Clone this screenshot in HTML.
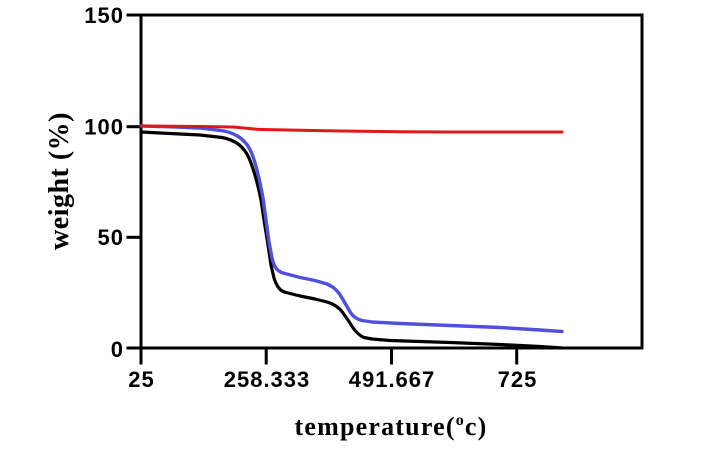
<!DOCTYPE html>
<html>
<head>
<meta charset="utf-8">
<style>
html,body{margin:0;padding:0;background:#fff;}
svg{display:block;}
.tk{font-family:"Liberation Sans",Arial,sans-serif;font-weight:bold;font-size:22px;letter-spacing:1px;fill:#000;}
.lb{font-family:"Liberation Serif","Times New Roman",serif;font-weight:bold;fill:#000;}
</style>
</head>
<body>
<svg width="701" height="450" viewBox="0 0 701 450" xmlns="http://www.w3.org/2000/svg">
  <rect width="701" height="450" fill="#fff"/>
  <g stroke="#000" stroke-width="3" fill="none" stroke-linecap="square">
    <line x1="141" y1="15" x2="141" y2="363"/>
    <line x1="128" y1="15" x2="642" y2="15"/>
    <line x1="642" y1="15" x2="642" y2="348"/>
    <line x1="128" y1="348" x2="642" y2="348"/>
    <line x1="128" y1="126.7" x2="141" y2="126.7"/>
    <line x1="128" y1="237.3" x2="141" y2="237.3"/>
    <line x1="266.2" y1="348" x2="266.2" y2="363"/>
    <line x1="391.5" y1="348" x2="391.5" y2="363"/>
    <line x1="516.7" y1="348" x2="516.7" y2="363"/>
  </g>
  <text class="tk" x="124" y="23" text-anchor="end">150</text>
  <text class="tk" x="124" y="134.5" text-anchor="end">100</text>
  <text class="tk" x="124" y="245" text-anchor="end">50</text>
  <text class="tk" x="124" y="357" text-anchor="end">0</text>
  <text class="tk" x="141.5" y="387" text-anchor="middle">25</text>
  <text class="tk" x="267" y="387" text-anchor="middle">258.333</text>
  <text class="tk" x="392" y="387" text-anchor="middle">491.667</text>
  <text class="tk" x="517.5" y="387" text-anchor="middle">725</text>
  <text class="lb" font-size="28" letter-spacing="0.5" transform="translate(68,181) rotate(-90)" text-anchor="middle">weight (%)</text>
  <text class="lb" font-size="26" letter-spacing="1.2" x="391" y="435" text-anchor="middle">temperature(<tspan font-size="16" dy="-10">o</tspan><tspan dy="10">c)</tspan></text>
  <g fill="none" stroke-linejoin="round" stroke-linecap="round">
    <path stroke="#000" stroke-width="3.2" d="M141,132 L170,133.5 L200,135 L222,137.5 C236,140 244,147 249,158 C254,170 258,185 261,200 L264,220 L268,245 L271,265 L274,278 C277,287 280,291 286,292.5 L300,296 L315,299 L327,302 C334,304 339,307 343,313 L350,323 C354,330 358,335 364,337.5 L372,339 L390,340.5 L420,341.5 L450,342.5 L500,344.5 L540,346.5 L562,348"/>
    <path stroke="#5050dc" stroke-width="3.4" d="M141,126 L170,126.8 L200,128 L224,131 C238,134 247,141 252,154 C257,167 260,182 263,198 L266,220 L269,242 L272,258 C274,267 277,271 283,273 L300,277.5 L315,280.5 L327,284 C334,287 338,291 342,298 L349,310 C352,316 356,319 362,320.5 L372,322 L400,323.5 L450,325.5 L500,327.5 L540,330 L562,331.5"/>
    <path stroke="#e01818" stroke-width="3" d="M141,126 L200,126.5 L232,127 C242,127.5 250,129 262,129.5 L300,130.3 L340,131 L400,131.7 L450,132 L562,132"/>
  </g>
</svg>
</body>
</html>
